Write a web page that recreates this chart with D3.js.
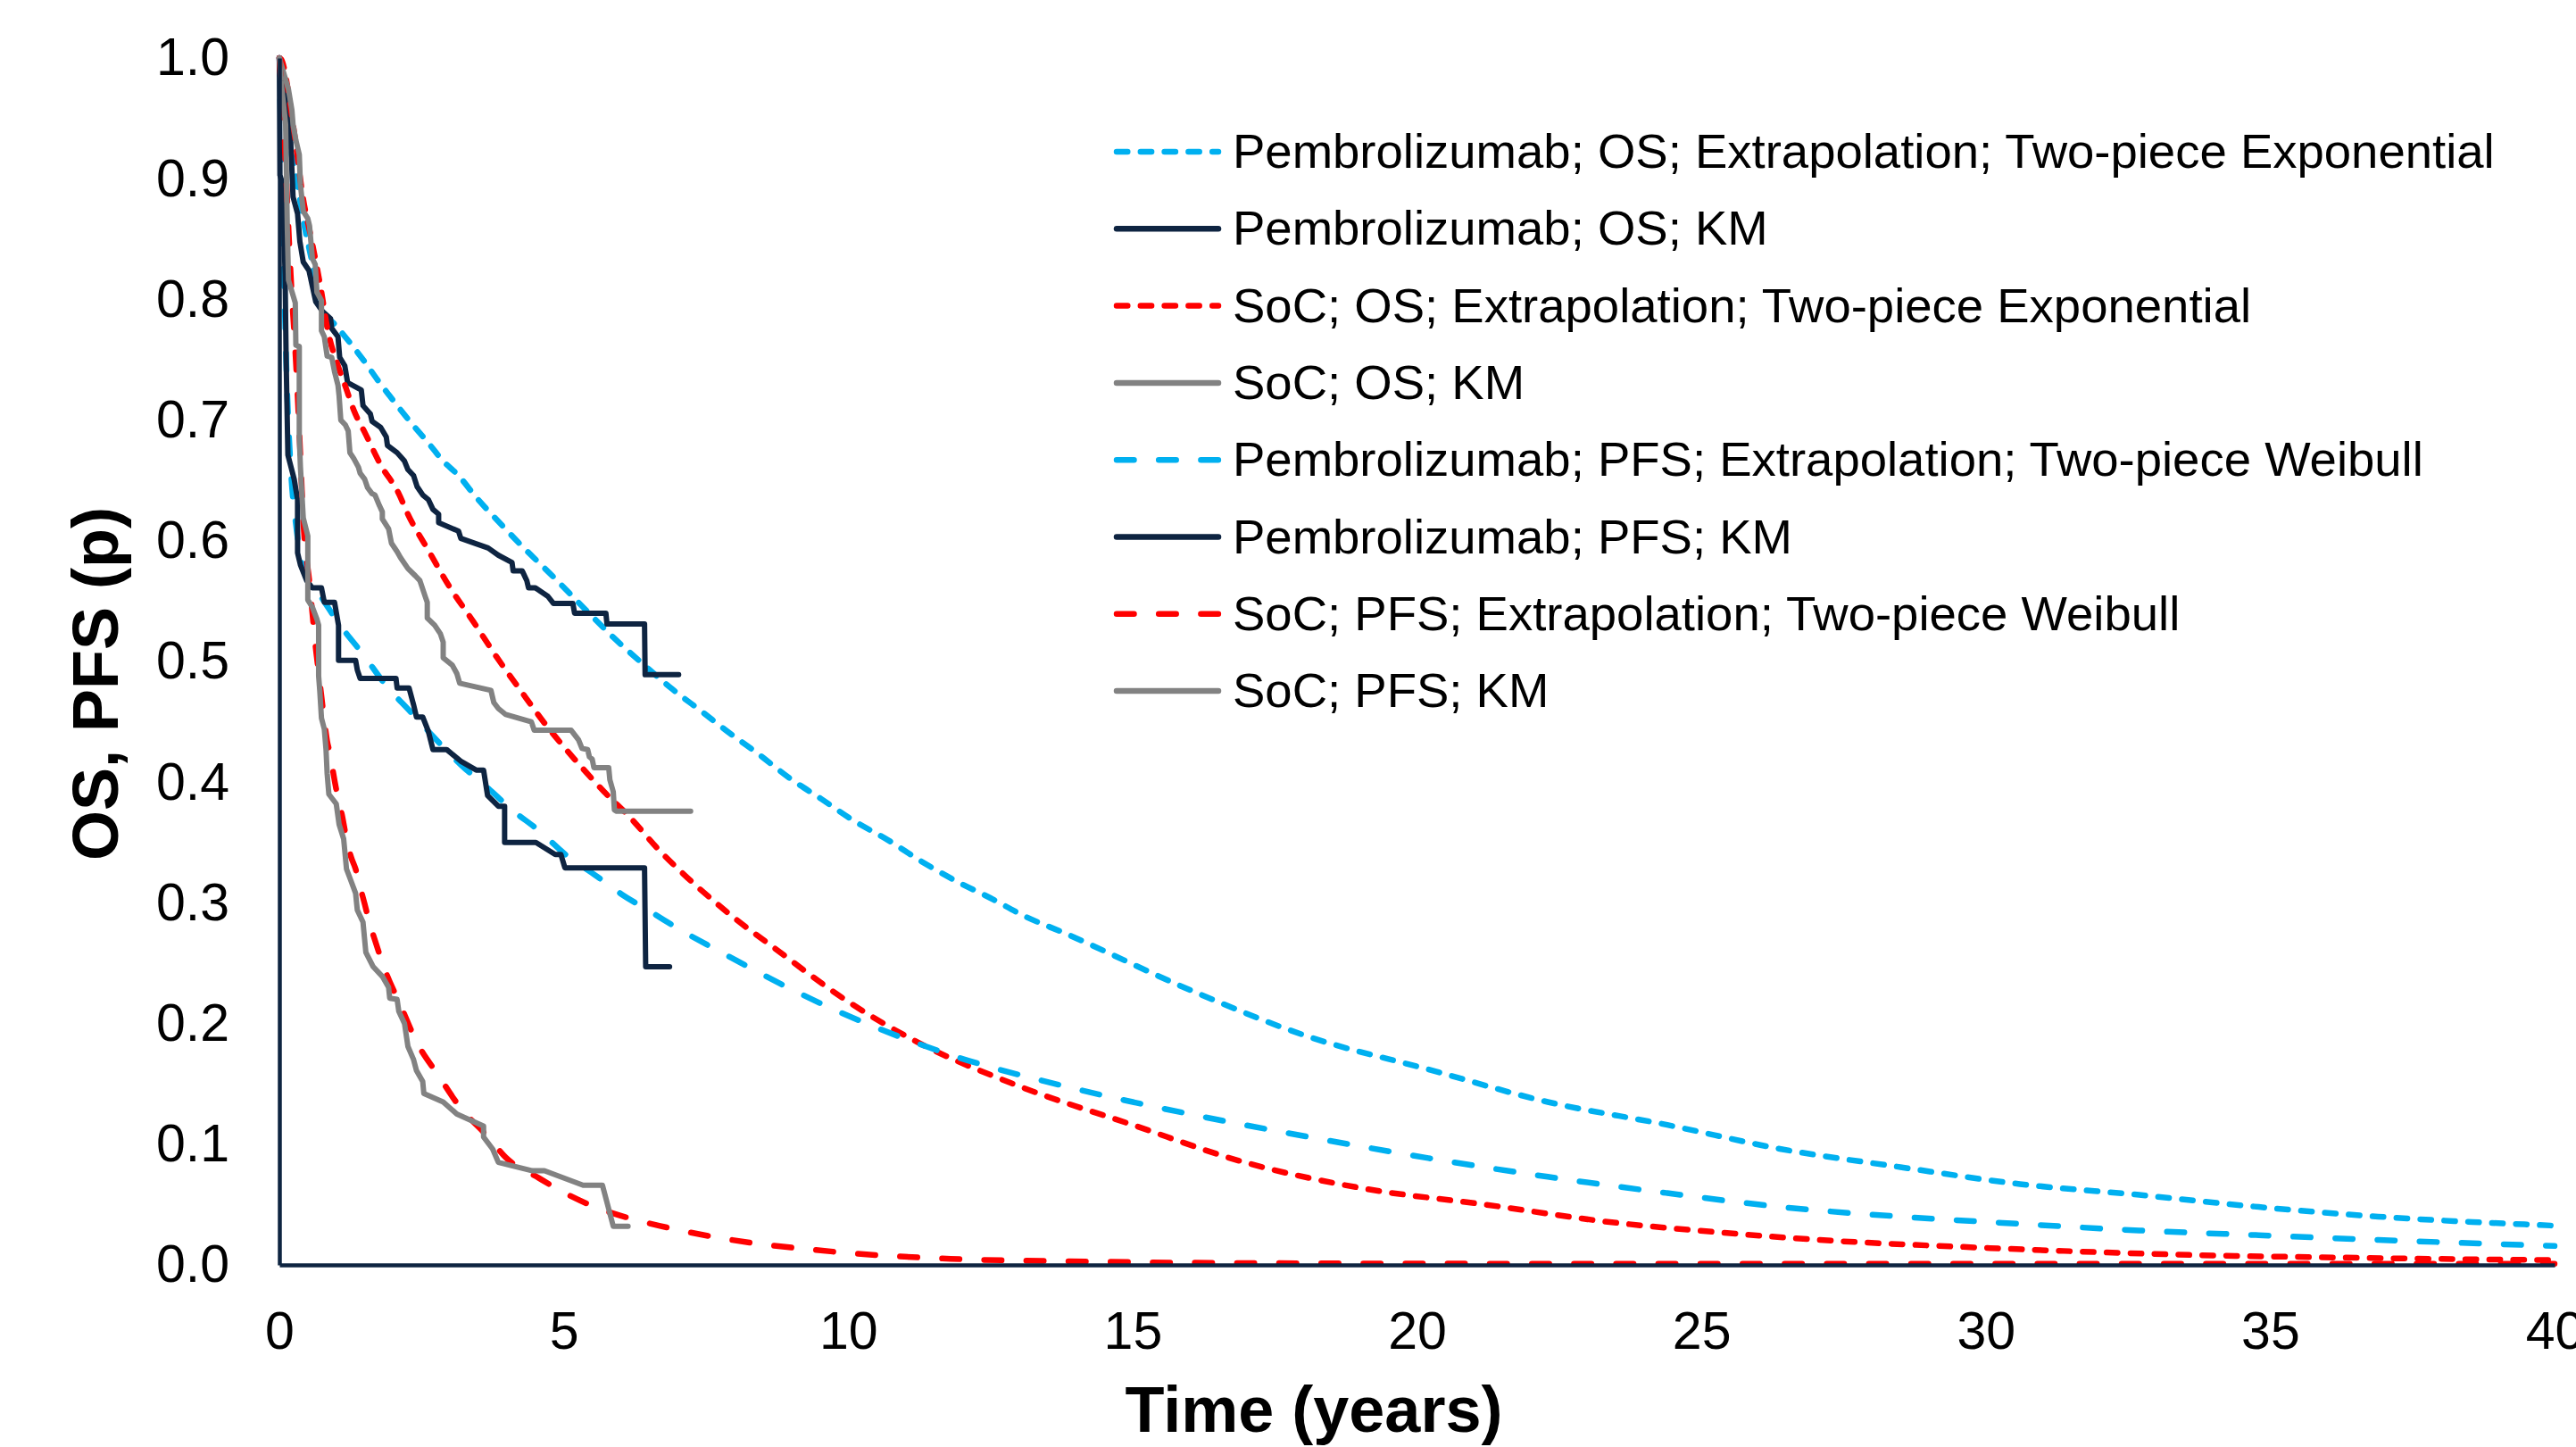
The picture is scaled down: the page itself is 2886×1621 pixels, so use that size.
<!DOCTYPE html>
<html>
<head>
<meta charset="utf-8">
<script src="https://cdn.jsdelivr.net/npm/d3@7"></script>
<style>
  body { margin: 0; background: #fff; }
  text { font-family: "Liberation Sans", Arial, sans-serif; fill: #000; }
</style>
</head>
<body>
<div id="chart-area"></div>
<script>
// values (time in years, survival p)
const xTicks = [0, 5, 10, 15, 20, 25, 30, 35, 40]
const yTicks = [0, 0.1, 0.2, 0.3, 0.4, 0.5, 0.6, 0.7, 0.8, 0.9, 1.0]

const pemOsExtT = [0, 0.1, 0.29, 0.42, 0.58, 0.74, 1.0, 1.31, 1.52, 1.73, 1.94, 2.31, 2.62, 2.88, 3.15, 3.46, 3.83, 4.3, 4.82, 5.34, 5.87, 6.39, 6.91, 7.44, 7.85, 8.43, 8.98, 9.53, 10.1, 10.7, 11.3, 11.9, 12.5, 13.1, 13.8, 16.0, 18.1, 20.2, 22.3, 24.4, 26.4, 28.5, 30.6, 32.7, 34.8, 36.9, 40]
const pemOsExtS = [1.0, 0.95, 0.903, 0.866, 0.83, 0.793, 0.778, 0.76, 0.747, 0.733, 0.72, 0.698, 0.681, 0.666, 0.654, 0.636, 0.617, 0.594, 0.57, 0.545, 0.52, 0.498, 0.477, 0.458, 0.443, 0.423, 0.403, 0.386, 0.368, 0.352, 0.334, 0.318, 0.304, 0.289, 0.275, 0.228, 0.189, 0.162, 0.135, 0.116, 0.096, 0.081, 0.067, 0.058, 0.048, 0.040, 0.0325]

const pemOsKmT = [0, 0.06, 0.14, 0.2, 0.24, 0.32, 0.36, 0.42, 0.52, 0.58, 0.64, 0.76, 0.9, 0.92, 1.03, 1.06, 1.15, 1.2, 1.44, 1.47, 1.6, 1.63, 1.78, 1.88, 1.9, 2.07, 2.2, 2.26, 2.36, 2.42, 2.52, 2.62, 2.7, 2.8, 2.8, 3.15, 3.19, 3.67, 3.85, 4.09, 4.11, 4.27, 4.35, 4.38, 4.5, 4.72, 4.82, 5.16, 5.19, 5.74, 5.76, 6.42, 6.43, 7.02]
const pemOsKmS = [1.0, 0.979, 0.957, 0.93, 0.885, 0.871, 0.848, 0.831, 0.824, 0.811, 0.798, 0.79, 0.784, 0.776, 0.769, 0.752, 0.745, 0.731, 0.725, 0.712, 0.705, 0.699, 0.694, 0.686, 0.679, 0.673, 0.666, 0.659, 0.654, 0.645, 0.638, 0.634, 0.626, 0.622, 0.615, 0.608, 0.602, 0.594, 0.588, 0.582, 0.575, 0.575, 0.567, 0.561, 0.561, 0.554, 0.548, 0.548, 0.54, 0.54, 0.531, 0.531, 0.489, 0.489]

const socOsExtT = [0, 0.03, 0.24, 0.42, 0.58, 0.74, 0.84, 1.03, 1.16, 1.31, 1.52, 1.78, 2.1, 2.26, 2.62, 2.99, 3.41, 3.83, 4.24, 4.66, 5.19, 5.71, 6.18, 6.65, 7.17, 7.7, 8.01, 8.69, 9.94, 11.2, 12.9, 15.0, 17.0, 19.1, 21.2, 23.3, 25.4, 27.5, 29.6, 31.7, 33.8, 35.8, 37.9, 40]
const socOsExtS = [1.0, 0.999, 0.945, 0.883, 0.846, 0.806, 0.777, 0.745, 0.728, 0.708, 0.688, 0.663, 0.639, 0.622, 0.592, 0.562, 0.533, 0.503, 0.476, 0.449, 0.419, 0.392, 0.37, 0.345, 0.321, 0.299, 0.287, 0.263, 0.22, 0.185, 0.15, 0.116, 0.0846, 0.063, 0.05, 0.036, 0.0266, 0.0195, 0.0149, 0.011, 0.008, 0.0064, 0.005, 0.004]

const socOsKmT = [0, 0.16, 0.22, 0.24, 0.29, 0.35, 0.37, 0.42, 0.5, 0.53, 0.58, 0.63, 0.66, 0.74, 0.74, 0.79, 0.84, 0.92, 0.97, 1.03, 1.05, 1.08, 1.16, 1.21, 1.24, 1.31, 1.39, 1.42, 1.5, 1.55, 1.63, 1.68, 1.76, 1.81, 1.81, 1.92, 1.97, 2.07, 2.13, 2.26, 2.39, 2.47, 2.52, 2.57, 2.6, 2.6, 2.73, 2.83, 2.88, 2.88, 3.04, 3.12, 3.17, 3.72, 3.77, 3.85, 3.98, 4.43, 4.48, 5.13, 5.26, 5.32, 5.42, 5.45, 5.5, 5.53, 5.79, 5.81, 5.87, 5.89, 5.92, 7.23]
const socOsKmS = [1.0, 0.974, 0.957, 0.945, 0.932, 0.92, 0.895, 0.873, 0.867, 0.861, 0.834, 0.829, 0.806, 0.799, 0.774, 0.769, 0.753, 0.752, 0.74, 0.729, 0.72, 0.70, 0.696, 0.691, 0.673, 0.668, 0.661, 0.656, 0.651, 0.644, 0.639, 0.638, 0.629, 0.624, 0.618, 0.61, 0.598, 0.591, 0.586, 0.577, 0.571, 0.567, 0.56, 0.553, 0.549, 0.536, 0.53, 0.523, 0.516, 0.503, 0.497, 0.49, 0.482, 0.476, 0.466, 0.461, 0.456, 0.45, 0.443, 0.443, 0.435, 0.428, 0.427, 0.421, 0.419, 0.412, 0.412, 0.402, 0.392, 0.377, 0.376, 0.376]

const pemPfsExtT = [0, 0.03, 0.08, 0.14, 0.2, 0.3, 0.42, 0.74, 1.1, 1.47, 1.86, 2.31, 2.7, 3.2, 3.67, 4.09, 4.56, 5.03, 5.55, 6.02, 6.55, 7.07, 7.65, 9.73, 11.8, 13.9, 16.0, 18.1, 20.2, 22.3, 24.4, 26.4, 28.5, 30.6, 32.7, 34.8, 36.9, 40]
const pemPfsExtS = [1.0, 0.93, 0.82, 0.72, 0.66, 0.61, 0.577, 0.553, 0.528, 0.506, 0.481, 0.458, 0.438, 0.414, 0.395, 0.377, 0.36, 0.34, 0.323, 0.307, 0.292, 0.277, 0.262, 0.212, 0.174, 0.147, 0.125, 0.106, 0.0885, 0.073, 0.0595, 0.048, 0.040, 0.034, 0.0285, 0.0246, 0.0207, 0.0157]

const pemPfsKmT = [0, 0.01, 0.06, 0.1, 0.12, 0.15, 0.26, 0.32, 0.32, 0.37, 0.48, 0.58, 0.74, 0.79, 0.97, 1.04, 1.04, 1.34, 1.37, 1.42, 2.05, 2.07, 2.28, 2.36, 2.41, 2.52, 2.62, 2.7, 2.94, 3.2, 3.46, 3.59, 3.66, 3.85, 3.96, 3.96, 4.51, 4.85, 4.95, 5.02, 6.42, 6.44, 6.86]
const pemPfsKmS = [1.0, 0.903, 0.895, 0.821, 0.747, 0.671, 0.651, 0.634, 0.59, 0.58, 0.567, 0.561, 0.561, 0.549, 0.549, 0.53, 0.501, 0.501, 0.493, 0.486, 0.486, 0.478, 0.478, 0.464, 0.454, 0.454, 0.442, 0.427, 0.427, 0.417, 0.41, 0.41, 0.389, 0.38, 0.38, 0.35, 0.35, 0.34, 0.34, 0.329, 0.329, 0.247, 0.247]

const socPfsExtT = [0, 0.1, 0.2, 0.3, 0.37, 0.42, 0.53, 0.58, 0.63, 0.69, 0.74, 0.79, 0.84, 0.9, 0.95, 1.03, 1.1, 1.18, 1.26, 1.34, 1.42, 1.5, 1.58, 1.68, 1.86, 2.13, 2.41, 2.81, 3.17, 3.67, 3.98, 4.56, 5.08, 5.66, 6.29, 6.91, 7.54, 9.73, 11.8, 13.9, 17, 22, 30, 40]
const socPfsExtS = [1.0, 0.92, 0.82, 0.74, 0.67, 0.617, 0.565, 0.54, 0.515, 0.491, 0.471, 0.451, 0.434, 0.422, 0.407, 0.387, 0.373, 0.353, 0.338, 0.328, 0.313, 0.299, 0.284, 0.269, 0.244, 0.215, 0.185, 0.156, 0.131, 0.106, 0.089, 0.072, 0.058, 0.046, 0.037, 0.030, 0.024, 0.011, 0.005, 0.003, 0.0015, 0.001, 0.001, 0.001]

const socPfsKmT = [0, 0.03, 0.11, 0.14, 0.16, 0.28, 0.29, 0.35, 0.35, 0.37, 0.42, 0.5, 0.5, 0.58, 0.66, 0.69, 0.69, 0.71, 0.74, 0.79, 0.82, 0.84, 0.87, 1.0, 1.05, 1.13, 1.18, 1.26, 1.34, 1.37, 1.47, 1.52, 1.65, 1.81, 1.92, 1.94, 2.07, 2.1, 2.2, 2.26, 2.36, 2.41, 2.52, 2.54, 2.88, 3.12, 3.59, 3.59, 3.75, 3.85, 4.45, 4.66, 5.34, 5.68, 5.87, 6.13]
const socPfsKmS = [1.0, 0.981, 0.945, 0.858, 0.816, 0.797, 0.762, 0.761, 0.686, 0.661, 0.619, 0.604, 0.551, 0.545, 0.535, 0.53, 0.488, 0.476, 0.453, 0.444, 0.427, 0.407, 0.39, 0.382, 0.365, 0.353, 0.328, 0.318, 0.308, 0.294, 0.284, 0.259, 0.247, 0.239, 0.23, 0.221, 0.22, 0.21, 0.2, 0.181, 0.17, 0.161, 0.152, 0.142, 0.135, 0.125, 0.115, 0.106, 0.096, 0.085, 0.078, 0.078, 0.066, 0.066, 0.032, 0.032]

const seriesNames = [
    "Pembrolizumab; OS; Extrapolation; Two-piece Exponential",
    "Pembrolizumab; OS; KM",
    "SoC; OS; Extrapolation; Two-piece Exponential",
    "SoC; OS; KM",
    "Pembrolizumab; PFS; Extrapolation; Two-piece Weibull",
    "Pembrolizumab; PFS; KM",
    "SoC; PFS; Extrapolation; Two-piece Weibull",
    "SoC; PFS; KM"
]

const blue = "#00b0f0", navy = "#0e2441", red = "#ff0000", grey = "#828282"
const dotted = "12.3,14.5", dashed = "19.5,27.7"

const series = [
    { name: seriesNames[0], t: pemOsExtT, s: pemOsExtS, color: blue, dash: dotted, smooth: true },
    { name: seriesNames[1], t: pemOsKmT, s: pemOsKmS, color: navy, dash: null, smooth: false },
    { name: seriesNames[2], t: socOsExtT, s: socOsExtS, color: red, dash: dotted, smooth: true },
    { name: seriesNames[3], t: socOsKmT, s: socOsKmS, color: grey, dash: null, smooth: false },
    { name: seriesNames[4], t: pemPfsExtT, s: pemPfsExtS, color: blue, dash: dashed, smooth: true },
    { name: seriesNames[5], t: pemPfsKmT, s: pemPfsKmS, color: navy, dash: null, smooth: false },
    { name: seriesNames[6], t: socPfsExtT, s: socPfsExtS, color: red, dash: dashed, smooth: true },
    { name: seriesNames[7], t: socPfsKmT, s: socPfsKmS, color: grey, dash: null, smooth: false }
]

const margin = { left: 313, top: 65, right: 24, bottom: 204 }
const totalW = 2886, totalH = 1621
const width = totalW - margin.left - margin.right
const height = totalH - margin.top - margin.bottom

const svg = d3.select("#chart-area").append("svg")
    .attr("width", totalW)
    .attr("height", totalH)

const group = svg.append("g")
    .attr("transform", `translate(${margin.left}, ${margin.top})`)

const scaleX = d3.scaleLinear().domain([0, 40]).range([0, width])
const scaleY = d3.scaleLinear().domain([0, 1]).range([height, 0])

// curves
series.forEach(sr => {
    const pts = sr.t.map((t, i) => [t, sr.s[i]])
    const line = d3.line()
        .x(d => scaleX(d[0]))
        .y(d => scaleY(d[1]))
        .curve(sr.smooth ? d3.curveMonotoneX : d3.curveLinear)
    group.append("path")
        .datum(pts)
        .attr("d", line)
        .attr("fill", "none")
        .attr("stroke", sr.color)
        .attr("stroke-width", sr.smooth ? 6.5 : 6)
        .attr("stroke-linecap", "round")
        .attr("stroke-linejoin", "round")
        .attr("stroke-dasharray", sr.dash)
})

// axes
const xAxisCall = d3.axisBottom(scaleX)
    .tickValues(xTicks)
    .tickSize(0)
    .tickPadding(52)
    .tickFormat(d3.format("d"))
const xAxis = group.append("g")
    .attr("class", "x axis")
    .attr("transform", `translate(0, ${height})`)
    .call(xAxisCall)
xAxis.select(".domain").attr("stroke", navy).attr("stroke-width", 4.5)
xAxis.selectAll("text")
    .attr("font-size", "59px")
    .attr("font-family", "Liberation Sans, Arial, sans-serif")
    .attr("fill", "#000")

const yAxisCall = d3.axisLeft(scaleY)
    .tickValues(yTicks)
    .tickSize(0)
    .tickPadding(56)
    .tickFormat(d3.format(".1f"))
const yAxis = group.append("g")
    .attr("class", "y axis")
    .call(yAxisCall)
yAxis.select(".domain").attr("stroke", navy).attr("stroke-width", 4.5)
yAxis.selectAll("text")
    .attr("font-size", "59px")
    .attr("font-family", "Liberation Sans, Arial, sans-serif")
    .attr("fill", "#000")

// axis titles
group.append("text")
    .attr("class", "x axis-label")
    .attr("x", 1472 - margin.left)
    .attr("y", 1604 - margin.top)
    .attr("font-size", "72px")
    .attr("font-weight", "bold")
    .attr("text-anchor", "middle")
    .text("Time (years)")

group.append("text")
    .attr("class", "y axis-label")
    .attr("x", -(766 - margin.top))
    .attr("y", 132 - margin.left)
    .attr("font-size", "72px")
    .attr("font-weight", "bold")
    .attr("text-anchor", "middle")
    .attr("transform", "rotate(-90)")
    .text("OS, PFS (p)")

// legend
const legend = svg.append("g").attr("class", "legend")
series.forEach((sr, i) => {
    const ly = 170 + i * 86.3
    legend.append("line")
        .attr("x1", 1251).attr("x2", 1365)
        .attr("y1", ly).attr("y2", ly)
        .attr("stroke", sr.color)
        .attr("stroke-width", 6.5)
        .attr("stroke-linecap", "round")
        .attr("stroke-dasharray", sr.dash)
    legend.append("text")
        .attr("x", 1381)
        .attr("y", ly + 18)
        .attr("font-size", "54.5px")
        .text(sr.name)
})
</script>
</body>
</html>
